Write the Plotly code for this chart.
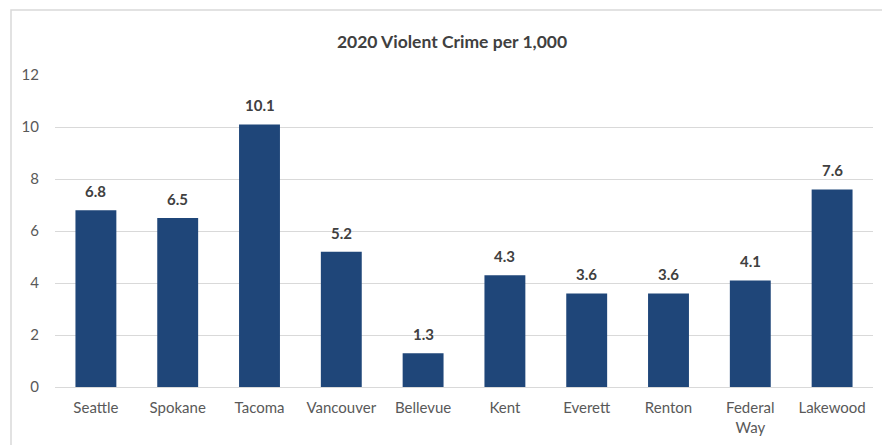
import plotly.graph_objects as go

cities = ["Seattle", "Spokane", "Tacoma", "Vancouver", "Bellevue", "Kent",
          "Everett", "Renton", "Federal<br>Way", "Lakewood"]
rates = [6.8, 6.5, 10.1, 5.2, 1.3, 4.3, 3.6, 3.6, 4.1, 7.6]
y_ticks = [0, 2, 4, 6, 8, 10, 12]

W, H = 882, 445
L, R, T, B = 55, 9, 75, 58
pw, ph = W - L - R, H - T - B
FONT = "Lato, Carlito, sans-serif"

fig = go.Figure(go.Bar(
    x=cities, y=rates,
    marker=dict(color="#1f4679", line=dict(width=0)),
    cliponaxis=False,
))

annotations = [dict(x=c, y=v, xref="x", yref="y", text=f"<b>{v:.1f}</b>",
                    showarrow=False, yanchor="bottom", yshift=8,
                    font=dict(family=FONT, size=15, color="#404040"))
               for c, v in zip(cities, rates)]

fig.update_layout(
    width=W, height=H,
    margin=dict(l=L, r=R, t=T, b=B),
    paper_bgcolor="white", plot_bgcolor="white",
    bargap=0.5,
    showlegend=False,
    font=dict(family=FONT, size=15, color="#595959"),
    title=dict(text="<b>2020 Violent Crime per 1,000</b>", x=452 / W, xref="container",
               xanchor="center", y=1 - 42 / H, yref="container", yanchor="middle",
               font=dict(family=FONT, size=17.5, color="#404040")),
    xaxis=dict(showgrid=False, showline=False, ticks="outside", ticklen=7,
               tickcolor="rgba(0,0,0,0)", tickfont=dict(size=15, color="#595959")),
    yaxis=dict(range=[0, 12], tickvals=y_ticks, showgrid=True, gridcolor="#d9d9d9",
               gridwidth=1, zeroline=True, zerolinecolor="#d9d9d9", zerolinewidth=1,
               showline=False, ticks="outside", ticklen=12, tickcolor="rgba(0,0,0,0)",
               tickfont=dict(size=15, color="#595959")),
    annotations=annotations,
    shapes=[dict(type="rect", xref="paper", yref="paper",
                 x0=(11 - L) / pw, x1=(W + 20 - L) / pw,
                 y0=(H - B - (H + 20)) / ph, y1=(H - B - 10) / ph,
                 line=dict(color="#d9d9d9", width=1.5), fillcolor="rgba(0,0,0,0)",
                 layer="below")],
)

fig.write_html("out.html")
